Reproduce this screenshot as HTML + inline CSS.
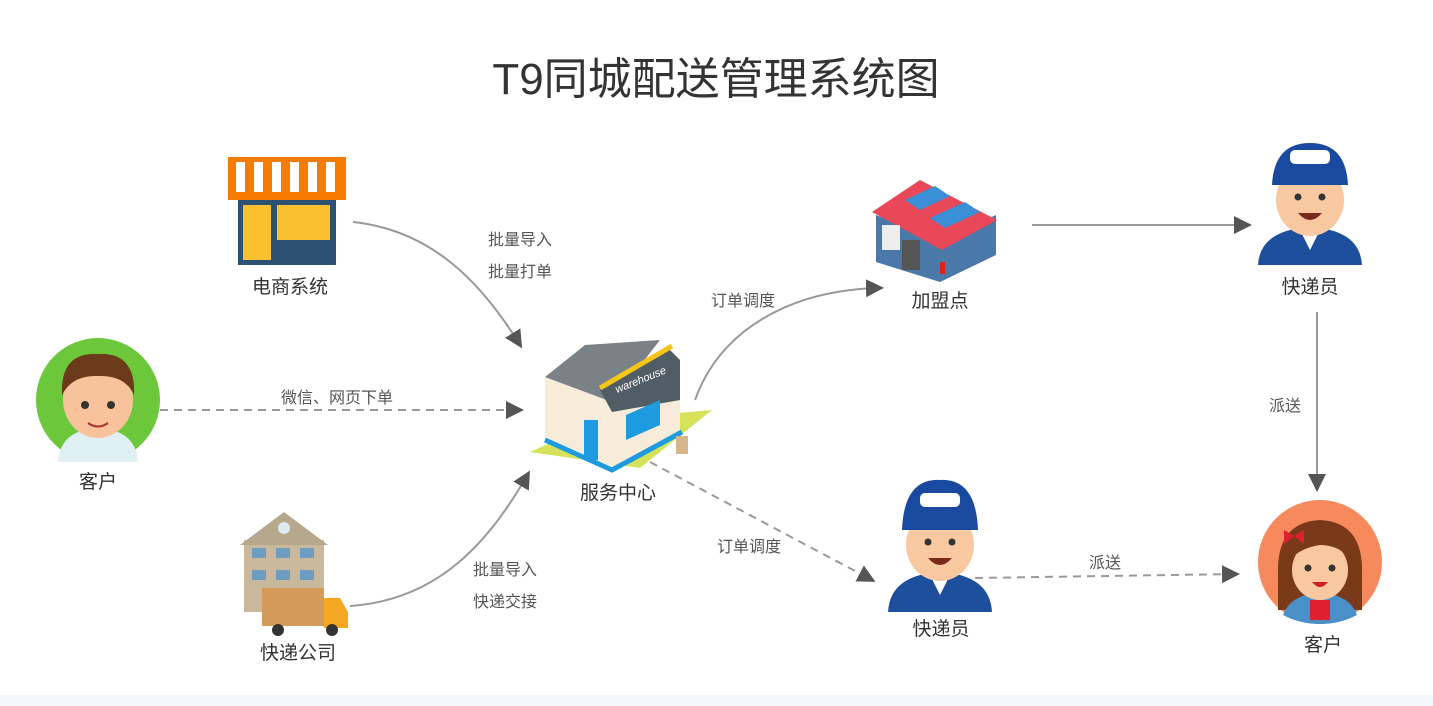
<!DOCTYPE html>
<html><head><meta charset="utf-8"><style>
html,body{margin:0;padding:0;background:#fff;}
svg{display:block;font-family:"Liberation Sans","Noto Sans CJK SC",sans-serif;}
</style></head><body>
<svg width="1433" height="706" viewBox="0 0 1433 706" xmlns="http://www.w3.org/2000/svg">
<defs>
<marker id="ah" markerWidth="10" markerHeight="10" refX="8" refY="5" orient="auto" markerUnits="userSpaceOnUse" viewBox="0 0 10 10"><path d="M0,0 L10,5 L0,10 Z" fill="#555"/></marker>
<marker id="ah2" markerWidth="18" markerHeight="18" refX="14" refY="9" orient="auto" markerUnits="userSpaceOnUse" viewBox="0 0 18 18"><path d="M0,0 L18,9 L0,18 Z" fill="#555"/></marker>
</defs>
<rect x="0" y="695" width="1433" height="11" fill="#f4f8fb"/>
<text x="716" y="94" font-size="44" fill="#333" text-anchor="middle">T9同城配送管理系统图</text>

<!-- connectors -->
<g fill="none" stroke="#999" stroke-width="2">
<path d="M353,222 C430,230 480,280 520,345" marker-end="url(#ah2)"/>
<path d="M160,410 L520,410" stroke-dasharray="8,6" marker-end="url(#ah2)"/>
<path d="M350,606 C440,600 490,540 528,474" marker-end="url(#ah2)"/>
<path d="M695,400 C720,330 790,290 880,288" marker-end="url(#ah2)"/>
<path d="M650,462 L872,580" stroke-dasharray="8,6" marker-end="url(#ah2)"/>
<path d="M1032,225 L1248,225" marker-end="url(#ah2)"/>
<path d="M1317,312 L1317,488" marker-end="url(#ah2)"/>
<path d="M975,578 L1236,574" stroke-dasharray="8,6" marker-end="url(#ah2)"/>
</g>
<g font-size="16" fill="#555" text-anchor="middle">
<text x="520" y="245">批量导入</text>
<text x="520" y="277">批量打单</text>
<text x="337" y="403">微信、网页下单</text>
<text x="505" y="575">批量导入</text>
<text x="505" y="607">快递交接</text>
<text x="743" y="306">订单调度</text>
<text x="749" y="552">订单调度</text>
<text x="1285" y="411">派送</text>
<text x="1105" y="568">派送</text>
</g>
<g font-size="19" fill="#333" text-anchor="middle">
<text x="290" y="293">电商系统</text>
<text x="98" y="488">客户</text>
<text x="298" y="659">快递公司</text>
<text x="618" y="499">服务中心</text>
<text x="940" y="307">加盟点</text>
<text x="1310" y="293">快递员</text>
<text x="941" y="635">快递员</text>
<text x="1323" y="651">客户</text>
</g>

<!-- shop -->
<rect x="238" y="198" width="98" height="67" fill="#2d5173"/>
<rect x="243" y="205" width="28" height="55" fill="#fbc02d"/>
<rect x="277" y="205" width="53" height="35" fill="#fbc02d"/>
<rect x="228" y="157" width="118" height="43" fill="#f57c00"/>
<g fill="#fff"><rect x="236" y="162" width="9" height="30"/><rect x="254" y="162" width="9" height="30"/><rect x="272" y="162" width="9" height="30"/><rect x="290" y="162" width="9" height="30"/><rect x="308" y="162" width="9" height="30"/><rect x="326" y="162" width="9" height="30"/></g>

<!-- customer green -->
<circle cx="98" cy="400" r="62" fill="#6cc83a"/>
<path d="M58,462 Q60,430 98,428 Q136,430 138,462 Z" fill="#dff0f5"/>
<ellipse cx="98" cy="400" rx="35" ry="38" fill="#f8c39a"/>
<path d="M62,395 Q60,352 98,354 Q136,352 134,395 Q125,375 98,376 Q72,375 62,395Z" fill="#6b3a1a"/>
<circle cx="85" cy="405" r="4" fill="#333"/><circle cx="111" cy="405" r="4" fill="#333"/>
<path d="M88,423 Q98,430 108,423" stroke="#a33" stroke-width="2" fill="none"/>

<!-- courier company -->
<rect x="244" y="540" width="80" height="72" fill="#c9b99a"/>
<path d="M240,545 L284,512 L328,545 Z" fill="#b5a88c"/>
<circle cx="284" cy="528" r="6" fill="#dfe9f0"/>
<g fill="#6d9cc2"><rect x="252" y="548" width="14" height="10"/><rect x="276" y="548" width="14" height="10"/><rect x="300" y="548" width="14" height="10"/><rect x="252" y="570" width="14" height="10"/><rect x="276" y="570" width="14" height="10"/><rect x="300" y="570" width="14" height="10"/></g>
<rect x="262" y="588" width="62" height="38" fill="#d49a5a"/>
<path d="M324,598 L340,598 L348,612 L348,628 L324,628Z" fill="#f5a623"/>
<circle cx="278" cy="630" r="6" fill="#333"/><circle cx="332" cy="630" r="6" fill="#333"/>

<!-- warehouse -->
<path d="M530,452 L600,420 L712,410 L640,468 Z" fill="#d6e35a"/>
<path d="M545,375 L545,440 L612,468 L680,430 L680,380 L612,400Z" fill="#f7ecd9"/>
<path d="M545,377 L585,345 L660,340 L612,402Z" fill="#7a8287"/>
<path d="M600,390 L670,350 L680,360 L680,400 L612,412Z" fill="#515d64"/>
<path d="M600,388 L672,346" stroke="#f5c518" stroke-width="5"/>
<text x="642" y="383" font-size="11" fill="#fff" font-style="italic" transform="rotate(-22 642 383)" text-anchor="middle">warehouse</text>
<rect x="584" y="420" width="14" height="40" fill="#1e9be0"/>
<path d="M626,415 L660,400 L660,425 L626,440Z" fill="#1e9be0"/>
<path d="M545,440 L612,470 L682,432" stroke="#1e9be0" stroke-width="5" fill="none"/>
<rect x="676" y="436" width="12" height="18" fill="#d4b58c"/>

<!-- franchise -->
<path d="M876,215 L876,262 L940,282 L996,255 L996,215 L940,240Z" fill="#4a78a8"/>
<path d="M872,212 L920,180 L997,220 L942,250Z" fill="#e84858"/>
<path d="M905,200 L935,186 L950,196 L920,210Z" fill="#3b8fd6"/>
<path d="M930,218 L965,202 L980,212 L945,228Z" fill="#3b8fd6"/>
<rect x="882" y="225" width="18" height="25" fill="#eee"/>
<rect x="902" y="240" width="18" height="30" fill="#555"/>
<rect x="940" y="262" width="5" height="12" fill="#d22"/>

<!-- courier top -->
<g transform="translate(1310,205)">
<path d="M-52,60 Q-50,25 0,22 Q50,25 52,60Z" fill="#1d4f9c"/>
<path d="M-10,25 L0,45 L10,25Z" fill="#fff"/>
<ellipse cx="0" cy="-5" rx="34" ry="36" fill="#f8c9a0"/>
<path d="M-38,-20 Q-36,-62 0,-62 Q36,-62 38,-20Z" fill="#1a4aa0"/>
<rect x="-20" y="-55" width="40" height="14" rx="5" fill="#fff"/>
<circle cx="-12" cy="-8" r="3.5" fill="#333"/><circle cx="12" cy="-8" r="3.5" fill="#333"/>
<path d="M-12,8 Q0,22 12,8Z" fill="#7a2a1a"/>
</g>
<!-- courier bottom -->
<g transform="translate(940,550)">
<path d="M-52,62 Q-50,25 0,22 Q50,25 52,62Z" fill="#1d4f9c"/>
<path d="M-10,25 L0,45 L10,25Z" fill="#fff"/>
<ellipse cx="0" cy="-5" rx="34" ry="36" fill="#f8c9a0"/>
<path d="M-38,-20 Q-36,-72 0,-70 Q36,-72 38,-20Z" fill="#1a4aa0"/>
<rect x="-20" y="-57" width="40" height="14" rx="5" fill="#fff"/>
<circle cx="-12" cy="-8" r="3.5" fill="#333"/><circle cx="12" cy="-8" r="3.5" fill="#333"/>
<path d="M-12,8 Q0,22 12,8Z" fill="#7a2a1a"/>
</g>

<!-- customer girl -->
<circle cx="1320" cy="562" r="62" fill="#f68a5d"/>
<path d="M1278,575 Q1276,522 1320,520 Q1364,522 1362,575 L1362,610 L1278,610Z" fill="#7a3a1a"/>
<path d="M1283,615 Q1290,595 1320,592 Q1350,595 1357,615 Q1340,624 1320,624 Q1300,624 1283,615Z" fill="#4a8fc8"/>
<rect x="1310" y="600" width="20" height="20" fill="#e02030"/>
<ellipse cx="1320" cy="570" rx="28" ry="30" fill="#f8c9a0"/>
<path d="M1290,560 Q1300,530 1330,538 Q1345,545 1350,560 Q1340,545 1320,545 Q1300,548 1290,560Z" fill="#7a3a1a"/>
<circle cx="1308" cy="568" r="3.5" fill="#333"/><circle cx="1332" cy="568" r="3.5" fill="#333"/>
<path d="M1312,582 Q1320,592 1328,582Z" fill="#c22"/>
<path d="M1284,530 L1294,536 L1284,544Z M1304,530 L1294,536 L1304,544Z" fill="#e02030"/>
</svg>
</body></html>
